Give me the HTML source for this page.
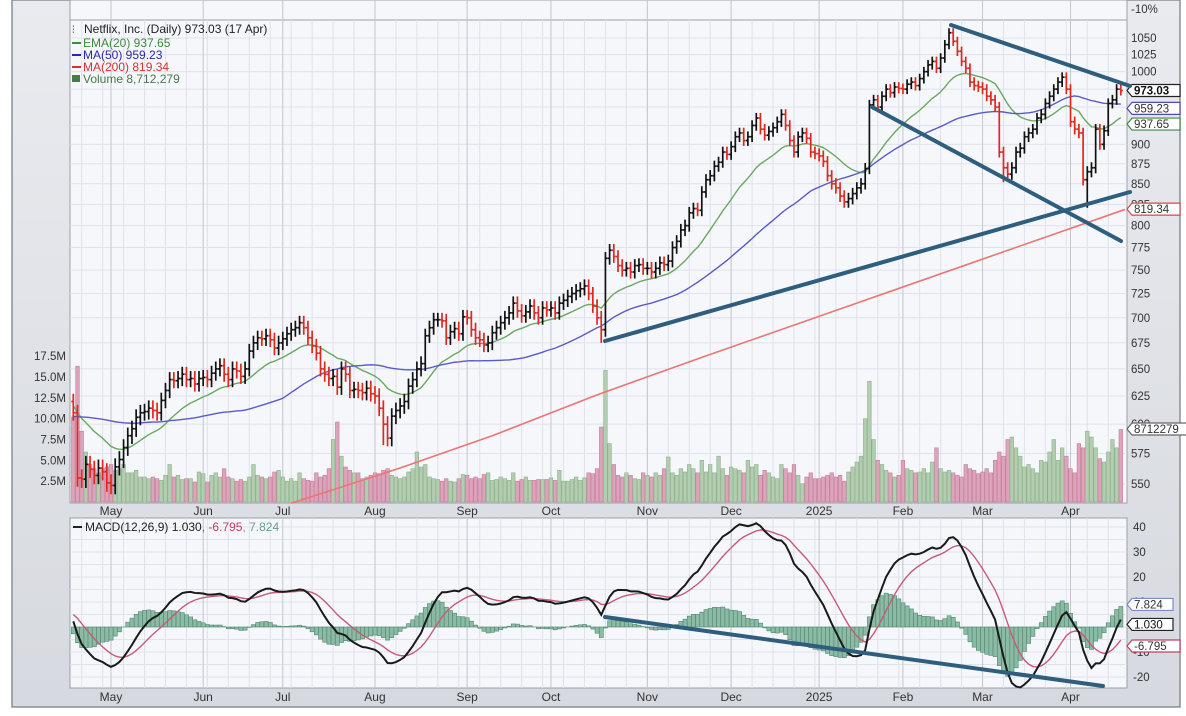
<!DOCTYPE html>
<html><head><meta charset="utf-8"><style>
html,body{margin:0;padding:0;background:#fff;}
svg{display:block;font-family:"Liberation Sans",sans-serif;}
</style></head><body>
<svg id="chart" width="1186" height="716" viewBox="0 0 1186 716" xmlns="http://www.w3.org/2000/svg">
<defs>
<linearGradient id="bg" x1="0" y1="0" x2="0" y2="1"><stop offset="0" stop-color="#e9ebef"/><stop offset="1" stop-color="#d6d9df"/></linearGradient>
</defs>
<rect x="12" y="0" width="1168" height="707" fill="url(#bg)" stroke="#8a8f98" stroke-width="1.5"/>
<rect x="70" y="0" width="1057" height="503" fill="#f5f7fb" stroke="#9aa0a8"/>
<line x1="70" y1="20" x2="1127" y2="20" stroke="#9aa0a8"/>
<rect x="70" y="518" width="1057" height="170" fill="#f5f7fb" stroke="#9aa0a8"/>
<g id="grid"></g>
<g id="volume"></g>
<g id="mas"></g>
<g id="bars"></g>
<g id="macd"></g>
<g id="axes" font-size="11.5" fill="#333"></g>
<g id="trend" stroke="#2e5d7e" stroke-width="4" stroke-linecap="round">
<line x1="605" y1="341" x2="1130" y2="192"/>
<line x1="951" y1="25" x2="1130" y2="86"/>
<line x1="872" y1="107" x2="1121" y2="241"/>
<line x1="605" y1="617" x2="1103" y2="686"/>
</g>
<g id="legend" font-size="12">
<text x="84" y="33" fill="#222">Netflix, Inc. (Daily) 973.03 (17 Apr)</text>
<text x="72" y="33" fill="#222" font-size="10">⫶</text>
<rect x="72" y="42" width="9" height="2" fill="#3e8a3e"/>
<text x="83" y="47" fill="#3e8a3e">EMA(20) 937.65</text>
<rect x="72" y="54" width="9" height="2" fill="#2a2aa8"/>
<text x="83" y="59" fill="#2a2aa8">MA(50) 959.23</text>
<rect x="72" y="66" width="9" height="2" fill="#d83030"/>
<text x="83" y="71" fill="#d83030">MA(200) 819.34</text>
<rect x="72" y="75" width="8" height="7" fill="#4a7a4a"/>
<text x="83" y="83" fill="#4a7a4a">Volume 8,712,279</text>
<rect x="73" y="526" width="9" height="2" fill="#222"/>
<text x="85" y="531" fill="#222">MACD(12,26,9) 1.030<tspan fill="#c04060">, -6.795</tspan><tspan fill="#6aa090">, 7.824</tspan></text>
</g>
</svg>
<script>
const prior=[565,568,575,580,583,585,587,584,590,598,595,600,602,605,603,598,596,600,605,610,607,610,615,620,625,622,620,617,612,605,600,604,608,613,618,620,626,628,630,628,625,622,620,620,622,625,615,610,612];
const closes=[610,555,554,566,562,557,563,560,551,
549,564,570,580,590,596,606,610,611,614,612,610,621,630,640,639,641,645,640,641,636,641,
642,640,646,650,653,645,640,650,648,643,650,667,675,680,679,682,678,670,675,
679,684,688,690,695,690,680,672,665,650,645,641,643,633,650,645,630,631,630,628,632,627,
625,614,600,588,607,612,616,620,634,640,650,655,682,690,698,698,697,680,686,689,684,701,
700,688,680,678,673,675,685,690,695,700,705,715,707,702,706,712,705,700,710,708,
710,705,715,718,722,725,728,730,733,725,712,700,688,763,772,765,755,750,752,748,755,756,752,
752,748,752,758,756,760,775,782,795,800,815,820,818,840,855,860,872,877,890,887,
897,910,915,905,910,925,935,920,912,917,922,930,940,925,905,890,910,915,908,890,888,
885,878,860,850,845,835,828,832,838,845,850,869,953,960,950,965,975,970,978,976,
975,982,985,980,990,1000,1010,1015,1005,1020,1040,1058,1045,1030,1015,1005,985,980,978,
975,965,960,950,890,870,862,870,890,895,910,915,920,935,940,955,965,975,985,992,975,
930,920,915,855,865,870,920,900,918,955,960,975,973];
const volumes=[10.2,16.3,8.5,6,4.5,4,3.5,4,4.2,
4.5,3.8,4,4.5,3.5,3.5,3.8,3,3,2.8,3,2.8,2.6,3.2,4.5,3,3.2,2.7,2.8,2.8,2.4,3.6,
3.4,2.4,3.2,3.5,3,4,3,2.8,2.5,2.7,2.5,3,4.5,3.2,3,2.8,3,3.6,3.8,
3,2.5,2.8,2.5,3.5,2.8,2.6,2.5,3.5,3,3.2,4,7.5,9.6,5.5,4.2,3.8,3.5,3.5,2.8,3,3.2,
3.5,3.4,3.8,4,3.2,3,2.8,3,3.6,4,6,4.2,4.5,3,2.8,2.7,2.5,2.8,2.5,2.4,2.8,3.3,
3.2,2.8,3,2.8,3.3,3.5,2.6,2.7,3,2.8,2.6,3.5,2.5,2.7,3,2.6,2.6,2.7,2.7,2.7,
2.9,2.6,3.8,2.5,2.5,2.7,3,2.6,2.9,3.5,3.4,4,9,15.8,7,4.5,3.2,3,3.5,3.2,2.8,2.7,3.5,
3.2,3,3.5,3.2,4,5.4,3.5,3.2,4,3.6,4.5,4,3.5,5,3.6,4.5,3.5,5.5,4,3.2,
4.2,4,3.8,3.5,5,4.2,4.5,3.2,3.8,3.5,3,2.8,4.5,4,3.5,4.5,3.2,2.2,3,3.5,2.8,
2.8,3,3.2,3.5,3,3.2,2.5,3.6,4.2,4.8,5.5,10,14.5,7.5,5,4.5,3.8,3.5,3,3.2,
5,4,3.8,3.5,3.6,4,3.5,4.8,6.5,4,3.6,3.8,3.5,3.2,3,4.5,4,3.8,3.4,
3.6,4,3.5,5,6,5.5,7.5,7.8,6.5,5.5,4.2,4.5,4,3.5,5,4.8,6,7.5,5,6.5,5.5,
4,3.5,7,6.5,8.5,7.8,6.5,5.2,4.8,6,7.5,6.5,8.7];
const wickIdx=[1,74,126,184,222,242];
const wickLow=[549,582,675,822,852,821];
const ma200Idx=[52,78,100,125,150,187,220,251];
const ma200Vals=[535,563,590,626,661,715,767,819];
const monthLabels=["May","Jun","Jul","Aug","Sep","Oct","Nov","Dec","2025","Feb","Mar","Apr"];
const monthStarts=[9,31,50,72,94,114,137,157,178,198,217,238];
const priceTicks=[1050,1025,1000,975,950,925,900,875,850,825,800,775,750,725,700,675,650,625,600,575,550];
const volTicks=[2.5,5,7.5,10,12.5,15,17.5];
const macdTicks=[40,30,20,10,0,-10,-20];

const NS="http://www.w3.org/2000/svg";
const bx=i=>73.3+i*4.19;
const py=p=>38+690*Math.log(1050/p);
const vy=v=>502-v*8.33;
const my=m=>627-m*2.5;
function mk(tag,attrs,parent){const e=document.createElementNS(NS,tag);for(const k in attrs)e.setAttribute(k,attrs[k]);parent.appendChild(e);return e;}
const G=id=>document.getElementById(id);
const grid=G('grid'),volG=G('volume'),maG=G('mas'),barG=G('bars'),macdG=G('macd'),axG=G('axes');

priceTicks.forEach(p=>{const l=mk('line',{x1:70,x2:1127,y1:py(p),y2:py(p),stroke:'#dfe3ea','stroke-width':1},grid);

});
macdTicks.concat([35,25,15,5,-5,-15]).forEach(m=>{const l=mk('line',{x1:70,x2:1127,y1:my(m),y2:my(m),stroke:'#dfe3ea'},grid);

});
for(let i=2;i<closes.length;i+=5){[[20,503],[518,688]].forEach(r=>{const l=mk('line',{x1:bx(i),x2:bx(i),y1:r[0],y2:r[1],stroke:'#dfe3ea'},grid);

});}
monthStarts.forEach((s,k)=>{[[0,503],[518,688]].forEach(r=>{const l=mk('line',{x1:bx(s),x2:bx(s),y1:r[0],y2:r[1],stroke:'#c2c6ce'},grid);

});
[515,701].forEach(y=>{const t=mk('text',{x:bx(s),y:y,'text-anchor':'middle','font-size':'12',fill:'#333'},axG);t.textContent=monthLabels[k];

});});

closes.forEach((c,i)=>{const up=i===0?false:c>=closes[i-1];const v=volumes[i];
const r=mk('rect',{x:bx(i)-1.8,y:vy(v),width:3.6,height:502-vy(v),fill:up?'#b3cdb0':'#dba4ba',stroke:up?'#8fb08c':'#c67d9a','stroke-width':0.6},volG);

});

const all=prior.concat(closes),off=prior.length;
function ema(arr,n){const out=[];let e=arr.slice(0,n).reduce((a,b)=>a+b,0)/n;for(let i=0;i<arr.length;i++){if(i<n){out.push(e);continue;}e=arr[i]*2/(n+1)+e*(1-2/(n+1));out.push(e);}return out;}
const e20=ema(all,20);
const ptsE=closes.map((c,i)=>bx(i)+','+py(e20[i+off])).join(' ');
let pl=mk('polyline',{points:ptsE,fill:'none',stroke:'#6aa860','stroke-width':1.4},maG);


const ptsM=closes.map((c,i)=>{let s=0;for(let k=i+off-49;k<=i+off;k++)s+=all[k];return bx(i)+','+py(s/50);}).join(' ');
pl=mk('polyline',{points:ptsM,fill:'none',stroke:'#5a5ac8','stroke-width':1.4},maG);


const pts2=ma200Idx.map((ix,k)=>bx(ix)+','+py(ma200Vals[k])).join(' ');
pl=mk('polyline',{points:pts2,fill:'none',stroke:'#ec7474','stroke-width':1.6},maG);



closes.forEach((c,i)=>{const o=i===0?620:closes[i-1];const up=i===0?false:c>=o;const col=up?'#111':'#e0281e';
let hi=Math.max(o,c)+7,lo=Math.min(o,c)-7;const w=wickIdx.indexOf(i);if(w>=0)lo=Math.min(lo,wickLow[w]);const x=bx(i);
const g=mk('g',{stroke:col,'stroke-width':1.7},barG);


mk('line',{x1:x,x2:x,y1:py(hi),y2:py(lo)},g);
mk('line',{x1:x-2,x2:x,y1:py(o),y2:py(o)},g);
mk('line',{x1:x,x2:x+2,y1:py(c),y2:py(c)},g);});

const e12=ema(all,12),e26=ema(all,26);
const macdAll=all.map((v,i)=>e12[i]-e26[i]);
const sigAll=ema(macdAll.slice(26),9);
const macd=closes.map((c,i)=>macdAll[i+off]);
const sig=closes.map((c,i)=>sigAll[i+off-26]);
macd.forEach((m,i)=>{const h=m-sig[i];const y0=my(0),y1=my(h);
const r=mk('rect',{x:bx(i)-2,y:Math.min(y0,y1),width:4.1,height:Math.abs(y1-y0),fill:'#8cbaa4',stroke:'#4f8a72','stroke-width':0.6},macdG);

});
pl=mk('polyline',{points:sig.map((s,i)=>bx(i)+','+my(s)).join(' '),fill:'none',stroke:'#c85a78','stroke-width':1.4},macdG);


pl=mk('polyline',{points:macd.map((m,i)=>bx(i)+','+my(m)).join(' '),fill:'none',stroke:'#1a1a1a','stroke-width':2},macdG);



priceTicks.forEach(p=>{const t=mk('text',{x:1131,y:py(p)+4},axG);t.textContent=p;

});
volTicks.forEach(v=>{const t=mk('text',{x:66,y:vy(v)+4,'text-anchor':'end'},axG);t.textContent=v.toFixed(1)+'M';

});
macdTicks.filter(m=>m!==0).forEach(m=>{const t=mk('text',{x:1133,y:my(m)+4},axG);t.textContent=m;

});
let t=mk('text',{x:1131,y:13},axG);t.textContent='-10%';


function tag(y,txt,col,name,bold){const g=mk('g',{},axG);


const w=txt.length*7+6;
mk('path',{d:`M1127 ${y} l5 -6 h${w} v12 h-${w} z`,fill:'#fff',stroke:col,'stroke-width':1.2},g);
const tt=mk('text',{x:1134,y:y+4,fill:col==='#222'?'#111':'#333','font-weight':bold?'bold':'normal'},g);tt.textContent=txt;}
tag(py(973.03),'973.03','#222','last-price-tag',true);
tag(py(959.23)+8,'959.23','#4a4ac0','ma50-tag');
tag(py(937.65)+8,'937.65','#3e8a3e','ema20-tag');
tag(py(819.34),'819.34','#d84848','ma200-tag');
tag(429,'8712279','#666','volume-tag');
tag(my(7.824)-3,'7.824','#7a8ac8','histogram-tag');
tag(my(1.030),'1.030','#222','macd-tag');
tag(my(-6.795)+2,'-6.795','#c04060','signal-tag');
</script>
</body></html>
